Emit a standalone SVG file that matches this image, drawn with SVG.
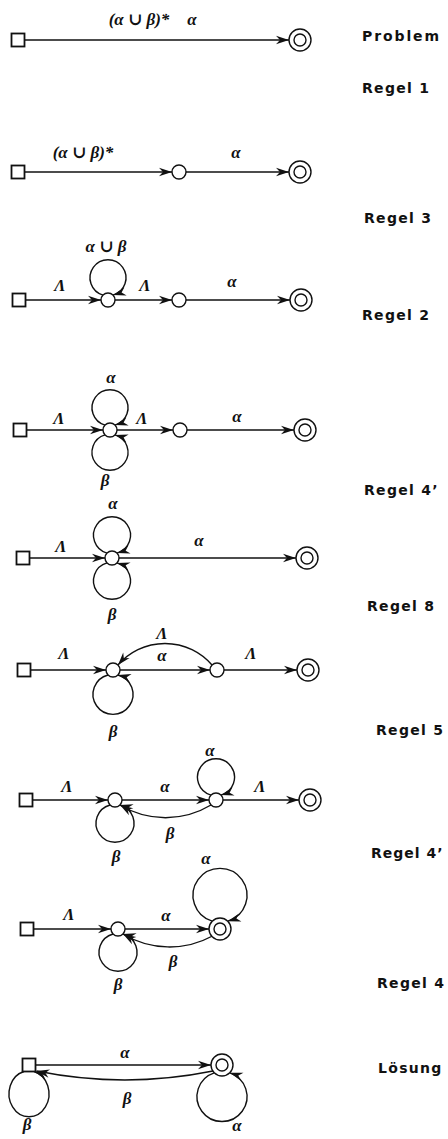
<svg xmlns="http://www.w3.org/2000/svg" width="448" height="1139" viewBox="0 0 448 1139">
  <defs>
    <!-- long barbed arrowhead, tip at the path end -->
    <marker id="ah" viewBox="-14 -5 15 10" refX="0" refY="0" markerWidth="15" markerHeight="10" markerUnits="userSpaceOnUse" orient="auto">
      <path d="M0,0 L-13,-4.2 L-9,0 L-13,4.2 Z" fill="#111"/>
    </marker>
    <style>
      .edge { fill: none; stroke: #111; stroke-width: 1.4; marker-end: url(#ah); }
      .start { fill: #fff; stroke: #111; stroke-width: 1.8; }
      .state { fill: #fff; stroke: #111; stroke-width: 1.4; }
      .lbl { font-family: "Liberation Serif", "DejaVu Serif", serif; font-style: italic; font-weight: bold; font-size: 17px; fill: #111; text-anchor: middle; }
      .step { font-family: "DejaVu Sans", "Liberation Sans", sans-serif; font-weight: bold; font-size: 14px; letter-spacing: 1.3px; fill: #111; }
    </style>
  </defs>
  <rect width="448" height="1139" fill="#fff"/>

  <!-- step captions -->
  <g id="captions">
    <text class="step" x="362" y="41" style="letter-spacing:1.9px">Problem</text>
    <text class="step" x="362" y="93">Regel 1</text>
    <text class="step" x="364" y="223">Regel 3</text>
    <text class="step" x="362" y="320">Regel 2</text>
    <text class="step" x="364" y="495">Regel 4’</text>
    <text class="step" x="367" y="611">Regel 8</text>
    <text class="step" x="376" y="735">Regel 5</text>
    <text class="step" x="371" y="858" style="letter-spacing:1px">Regel 4’</text>
    <text class="step" x="377" y="988">Regel 4</text>
    <text class="step" x="378" y="1073">Lösung</text>
  </g>

  <g id="connectors">
    <!-- 1: problem -->
    <path class="edge" d="M24.5,40 L289,40"/>
    <text class="lbl" x="139" y="25">(α ∪ β)*</text>
    <text class="lbl" x="192" y="25">α</text>

    <!-- 2 -->
    <path class="edge" d="M24.5,172 L172,172"/>
    <path class="edge" d="M186,172 L289,172"/>
    <text class="lbl" x="83" y="158">(α ∪ β)*</text>
    <text class="lbl" x="236" y="158">α</text>

    <!-- 3 -->
    <path class="edge" d="M25.5,300 L101,300"/>
    <path class="edge" d="M103.05,295.05 A18,18 0 1 1 112.95,295.05"/>
    <path class="edge" d="M115,300 L172,300"/>
    <path class="edge" d="M186,300 L290,300"/>
    <text class="lbl" x="60" y="291">Λ</text>
    <text class="lbl" x="106" y="252">α ∪ β</text>
    <text class="lbl" x="145" y="291">Λ</text>
    <text class="lbl" x="232" y="287">α</text>

    <!-- 4 -->
    <path class="edge" d="M26.5,430 L103,430"/>
    <path class="edge" d="M105.05,425.05 A18,18 0 1 1 114.95,425.05"/>
    <path class="edge" d="M105.05,434.95 A18,18 0 1 0 114.95,434.95"/>
    <path class="edge" d="M117,430 L173,430"/>
    <path class="edge" d="M187,430 L294,430"/>
    <text class="lbl" x="59" y="424">Λ</text>
    <text class="lbl" x="111" y="383">α</text>
    <text class="lbl" x="105" y="486">β</text>
    <text class="lbl" x="142" y="424">Λ</text>
    <text class="lbl" x="237" y="422">α</text>

    <!-- 5 -->
    <path class="edge" d="M29.5,558 L105,558"/>
    <path class="edge" d="M107.05,553.05 A18.5,18.5 0 1 1 116.95,553.05"/>
    <path class="edge" d="M107.05,562.95 A18.5,18.5 0 1 0 116.95,562.95"/>
    <path class="edge" d="M119,558 L296,558"/>
    <text class="lbl" x="61" y="552">Λ</text>
    <text class="lbl" x="113" y="509">α</text>
    <text class="lbl" x="112" y="620">β</text>
    <text class="lbl" x="199" y="546">α</text>

    <!-- 6 -->
    <path class="edge" d="M30.5,670 L106,670"/>
    <path class="edge" d="M120,670 L210,670"/>
    <path class="edge" d="M212,665 A62,62 0 0 0 117.95,665.05"/>
    <path class="edge" d="M224,670 L297,670"/>
    <path class="edge" d="M108.05,674.95 A20,20 0 1 0 117.95,674.95"/>
    <text class="lbl" x="64" y="659">Λ</text>
    <text class="lbl" x="162" y="639">Λ</text>
    <text class="lbl" x="162" y="661">α</text>
    <text class="lbl" x="251" y="659">Λ</text>
    <text class="lbl" x="113" y="737">β</text>

    <!-- 7 -->
    <path class="edge" d="M32.5,800 L108,800"/>
    <path class="edge" d="M122,800 L209,800"/>
    <path class="edge" d="M211.05,795.05 A18.5,18.5 0 1 1 220.95,795.05"/>
    <path class="edge" d="M223,800 L299,800"/>
    <path class="edge" d="M211,805 A88,88 0 0 1 120,805"/>
    <path class="edge" d="M110.05,804.95 A19,19 0 1 0 119.95,804.95"/>
    <text class="lbl" x="67" y="792">Λ</text>
    <text class="lbl" x="165" y="792">α</text>
    <text class="lbl" x="210" y="756">α</text>
    <text class="lbl" x="260" y="792">Λ</text>
    <text class="lbl" x="170" y="839">β</text>
    <text class="lbl" x="116" y="862">β</text>

    <!-- 8 -->
    <path class="edge" d="M33.5,929 L111,929"/>
    <path class="edge" d="M125,929 L209,929"/>
    <path class="edge" d="M212.2,921.2 A27,27 0 1 1 227.8,921.2"/>
    <path class="edge" d="M212.5,936 A90,90 0 0 1 123,934"/>
    <path class="edge" d="M113.05,933.95 A19,19 0 1 0 122.95,933.95"/>
    <text class="lbl" x="69" y="920">Λ</text>
    <text class="lbl" x="166" y="921">α</text>
    <text class="lbl" x="206" y="864">α</text>
    <text class="lbl" x="173" y="967">β</text>
    <text class="lbl" x="118" y="990">β</text>

    <!-- 9: solution -->
    <path class="edge" d="M35.5,1065 L211,1065"/>
    <path class="edge" d="M213,1071 A445,445 0 0 1 36.5,1071"/>
    <path class="edge" d="M24,1071.5 A20,23 0 1 0 34,1071.5"/>
    <path class="edge" d="M214.2,1072.8 A25,25 0 1 0 229.8,1072.8"/>
    <text class="lbl" x="125" y="1058">α</text>
    <text class="lbl" x="127" y="1104">β</text>
    <text class="lbl" x="27" y="1130">β</text>
    <text class="lbl" x="237" y="1131">α</text>
  </g>

  <g id="nodes">
    <g id="d1-start"><rect class="start" x="11.5" y="33.5" width="13" height="13"/></g>
    <g id="d1-final"><circle class="state" cx="300" cy="40" r="11"/><circle class="state" cx="300" cy="40" r="6"/></g>

    <g id="d2-start"><rect class="start" x="11.5" y="165.5" width="13" height="13"/></g>
    <g id="d2-q1"><circle class="state" cx="179" cy="172" r="7"/></g>
    <g id="d2-final"><circle class="state" cx="300" cy="172" r="11"/><circle class="state" cx="300" cy="172" r="6"/></g>

    <g id="d3-start"><rect class="start" x="12.5" y="293.5" width="13" height="13"/></g>
    <g id="d3-q1"><circle class="state" cx="108" cy="300" r="7"/></g>
    <g id="d3-q2"><circle class="state" cx="179" cy="300" r="7"/></g>
    <g id="d3-final"><circle class="state" cx="301" cy="300" r="11"/><circle class="state" cx="301" cy="300" r="6"/></g>

    <g id="d4-start"><rect class="start" x="13.5" y="423.5" width="13" height="13"/></g>
    <g id="d4-q1"><circle class="state" cx="110" cy="430" r="7"/></g>
    <g id="d4-q2"><circle class="state" cx="180" cy="430" r="7"/></g>
    <g id="d4-final"><circle class="state" cx="305" cy="430" r="11"/><circle class="state" cx="305" cy="430" r="6"/></g>

    <g id="d5-start"><rect class="start" x="16.5" y="551.5" width="13" height="13"/></g>
    <g id="d5-q1"><circle class="state" cx="112" cy="558" r="7"/></g>
    <g id="d5-final"><circle class="state" cx="307" cy="558" r="11"/><circle class="state" cx="307" cy="558" r="6"/></g>

    <g id="d6-start"><rect class="start" x="17.5" y="663.5" width="13" height="13"/></g>
    <g id="d6-q1"><circle class="state" cx="113" cy="670" r="7"/></g>
    <g id="d6-q2"><circle class="state" cx="217" cy="670" r="7"/></g>
    <g id="d6-final"><circle class="state" cx="308" cy="670" r="11"/><circle class="state" cx="308" cy="670" r="6"/></g>

    <g id="d7-start"><rect class="start" x="19.5" y="793.5" width="13" height="13"/></g>
    <g id="d7-q1"><circle class="state" cx="115" cy="800" r="7"/></g>
    <g id="d7-q2"><circle class="state" cx="216" cy="800" r="7"/></g>
    <g id="d7-final"><circle class="state" cx="310" cy="800" r="11"/><circle class="state" cx="310" cy="800" r="6"/></g>

    <g id="d8-start"><rect class="start" x="20.5" y="922.5" width="13" height="13"/></g>
    <g id="d8-q1"><circle class="state" cx="118" cy="929" r="7"/></g>
    <g id="d8-final"><circle class="state" cx="220" cy="929" r="11"/><circle class="state" cx="220" cy="929" r="6"/></g>

    <g id="d9-start"><rect class="start" x="22.5" y="1058.5" width="13" height="13"/></g>
    <g id="d9-final"><circle class="state" cx="222" cy="1065" r="11"/><circle class="state" cx="222" cy="1065" r="6"/></g>
  </g>
</svg>
